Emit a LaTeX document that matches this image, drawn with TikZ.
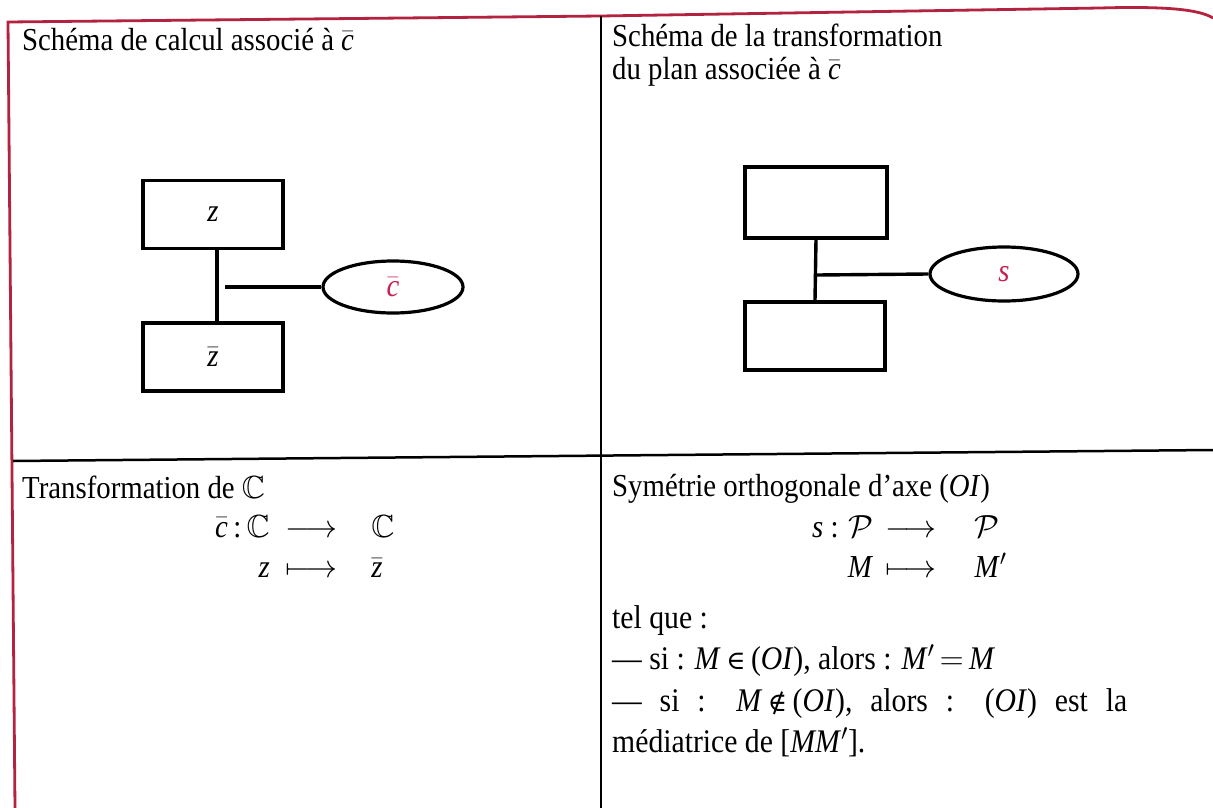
\documentclass[tikz,border=0pt]{standalone}
\usepackage{fix-cm}
\usepackage{amsmath,amssymb}
\usepackage{fontspec}
\setmainfont[FakeStretch=0.9]{Liberation Serif}
\newfontfamily\symfont{DejaVu Serif}
\usetikzlibrary{shapes.geometric}
\definecolor{bordred}{HTML}{B3223F}
\definecolor{txtred}{HTML}{C8204F}
\newcommand{\headfont}{\fontsize{32}{33}\selectfont}
\newcommand{\bodyfont}{\fontsize{32}{40.5}\selectfont}
\newcommand{\parfont}{\fontsize{33}{41.5}\selectfont}
\newcommand{\vi}[1]{\textit{#1}}
\newcommand{\bvi}[1]{$\bar{\mbox{\itshape #1}}$}
\newcommand{\elt}{{\symfont\fontsize{26}{30}\selectfont ∈}}
\newcommand{\nelt}{{\symfont\fontsize{26}{30}\selectfont ∉}}
\begin{document}
\begin{tikzpicture}[x=1pt,y=-1pt,
  rframe/.style={line width=2.8pt, draw=bordred},
  bframe/.style={line width=2.5pt, draw=black},
  box/.style={draw, line width=3.4pt, minimum width=140pt, minimum height=68pt, inner sep=0pt, font=\headfont},
  oval/.style={draw, ellipse, line width=3.2pt, minimum width=140pt, minimum height=52pt, inner sep=0pt, text=txtred, font=\headfont},
  conn/.style={line width=3.4pt},
  txt/.style={anchor=base west, inner sep=0pt, font=\headfont},
  btxt/.style={anchor=base west, inner sep=0pt, font=\bodyfont}
]
\useasboundingbox (0,0) rectangle (1213,808);
\fill[white] (0,0) rectangle (1213,808);
% frame
\coordinate (tl) at (8,22);
\coordinate (bl) at (15,808);
\coordinate (tm) at (601,16);
\coordinate (bm) at (601,808);
\coordinate (ml) at (13,461);
\coordinate (mr) at (1213,450);
\coordinate (tr) at (1213,18);
\draw[rframe] (bl) -- (tl) -- (tm) -- (1100,8) .. controls (1170,6) and (1200,10) .. (tr);
\draw[bframe] (tm) -- (bm);
\draw[bframe] (ml) -- (mr);
% headers
\node[txt] (h1) at (22,51) {Schéma de calcul associé à \bvi{c}};
\node[txt] (h2) at (612,47) {\begin{tabular}[t]{@{}l@{}}Schéma de la transformation\\ du plan associée à \bvi{c}\end{tabular}};
% left diagram
\node[box] (zb) at (213,214.5) {\vi{z}};
\node[box] (zbb) at (213,357) {\bvi{z}};
\node[oval] (cel) at (393,287) {\bvi{c}};
\coordinate (lj) at (225,287);
\draw[conn] ([xshift=4pt]zb.south) -- ([xshift=4pt]zbb.north);
\draw[conn] (lj) -- (cel.west);
% right diagram
\node[box, minimum width=142pt, minimum height=71pt] (pb) at (816,202.5) {};
\node[box] (pbb) at (815,336) {};
\node[oval, minimum width=148pt, minimum height=54pt] (sel) at (1004,274) {\vi{s}};
\coordinate (rj) at (817,275);
\draw[conn] (pb.south) -- (pbb.north);
\draw[conn] (rj) -- (sel.west);
% bottom left
\node[btxt] (t1) at (22,498) {Transformation de $\mathbb{C}$};
\node[btxt] (map1) at (215,537) {\begin{tabular}[t]{@{}r@{\hspace{16pt}}c@{\hspace{34pt}}l@{}}
\bvi{c}\,:\,$\mathbb{C}$ & $\longrightarrow$ & $\mathbb{C}$\\
\vi{z} & $\longmapsto$ & \bvi{z}
\end{tabular}};
% bottom right
\node[btxt] (t2) at (612,496) {Symétrie orthogonale d’axe (\vi{OI})};
\node[btxt] (map2) at (812,537) {\begin{tabular}[t]{@{}r@{\hspace{12pt}}c@{\hspace{38pt}}l@{}}
\vi{s} : $\mathcal{P}$ & $\longrightarrow$ & $\mathcal{P}$\\
\vi{M} & $\longmapsto$ & \vi{M}$'$
\end{tabular}};
\node[anchor=base west, inner sep=0pt, font=\parfont] (para) at (612,628) {\begin{tabular}[t]{@{}l@{}}
tel que :\\
— si : \vi{M}\,\elt\,(\vi{OI}), alors : \vi{M}$'$\,$=$\,\vi{M}\\
\makebox[515pt][s]{— si : \vi{M}\,\nelt\,(\vi{OI}), alors : (\vi{OI}) est la}\\
médiatrice de [\vi{MM}$'$].
\end{tabular}};
\end{tikzpicture}
\end{document}
